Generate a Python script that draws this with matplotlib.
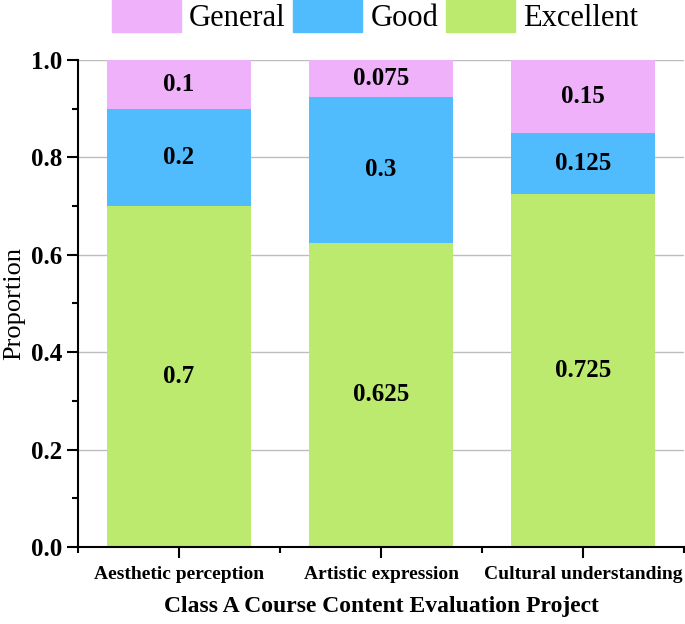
import matplotlib.pyplot as plt
from matplotlib.patches import Patch
from matplotlib.ticker import MultipleLocator, FixedLocator

plt.rcParams['font.family'] = ['Liberation Serif', 'DejaVu Serif']

categories = ['Aesthetic perception', 'Artistic expression', 'Cultural understanding']
excellent = [0.7, 0.625, 0.725]
good = [0.2, 0.3, 0.125]
general = [0.1, 0.075, 0.15]

c_general = '#EEB1FA'
c_good = '#50BBFD'
c_excellent = '#BBEA6E'

fig = plt.figure(figsize=(6.85, 6.24), dpi=100)
ax = fig.add_axes([78 / 685, 1 - 547 / 624, 606 / 685, 487 / 624])

x = list(range(len(categories)))
w = 0.71
bottom_good = excellent
bottom_general = [e + g for e, g in zip(excellent, good)]

ax.bar(x, excellent, w, color=c_excellent, zorder=2)
ax.bar(x, good, w, bottom=bottom_good, color=c_good, zorder=2)
ax.bar(x, general, w, bottom=bottom_general, color=c_general, zorder=2)

for i in x:
    segs = [(0, excellent[i]), (bottom_good[i], good[i]), (bottom_general[i], general[i])]
    for b, v in segs:
        ax.text(i, b + v / 2, f'{v:g}', ha='center', va='center',
                fontsize=18, fontweight='bold', zorder=3)

ax.set_xlim(-0.5, 2.5)
ax.set_ylim(0, 1.0)
ax.set_xticks(x)
ax.set_xticklabels(categories, fontsize=14, fontweight='bold')
ax.xaxis.set_minor_locator(FixedLocator([-0.5, 0.5, 1.5, 2.5]))
ax.yaxis.set_major_locator(MultipleLocator(0.2))
ax.yaxis.set_minor_locator(MultipleLocator(0.1))
ax.set_yticklabels([f'{t:.1f}' for t in ax.get_yticks()], fontsize=18, fontweight='bold')

ax.tick_params(axis='both', which='major', direction='out', length=8, width=1.5)
ax.tick_params(axis='both', which='minor', direction='out', length=4, width=1.5)
ax.tick_params(axis='x', pad=6)

for s in ['top', 'right']:
    ax.spines[s].set_visible(False)
for s in ['left', 'bottom']:
    ax.spines[s].set_linewidth(1.5)

ax.yaxis.grid(True, color='#bdbdbd', linewidth=1, zorder=0)
ax.set_axisbelow(True)

ax.set_xlabel('Class A Course Content Evaluation Project', fontsize=17,
              fontweight='bold', labelpad=9)
ax.set_ylabel('Proportion', fontsize=19, labelpad=4)

handles = [Patch(color=c_general), Patch(color=c_good), Patch(color=c_excellent)]
fig.legend(handles, ['General', 'Good', 'Excellent'], loc='upper center',
           bbox_to_anchor=(375 / 685, 1.0), ncol=3, frameon=False, fontsize=22,
           handlelength=2.26, handleheight=1.25, handletextpad=0.26,
           columnspacing=0.26, borderpad=0, borderaxespad=0)

fig.savefig('out.png', dpi=100)
